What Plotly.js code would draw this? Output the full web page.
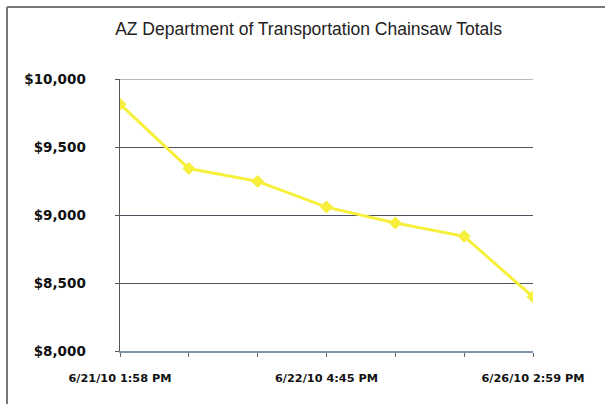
<!DOCTYPE html>
<html>
<head>
<meta charset="utf-8">
<script src="https://cdn.plot.ly/plotly-3.0.1.min.js"></script>
<style>html,body{margin:0;padding:0;background:#fff;}#chart{width:605px;height:404px;}</style>
</head>
<body>
<div id="chart"></div>
<script>
// Data
var xLabels = ['6/21/10 1:58 PM', '', '', '6/22/10 4:45 PM', '', '', '6/26/10 2:59 PM'];
var totals = [9815, 9342, 9247, 9058, 8941, 8843, 8398];
var yTickVals = [8000, 8500, 9000, 9500, 10000];
var yTickText = ['$8,000', '$8,500', '$9,000', '$9,500', '$10,000'];

var xIdx = xLabels.map(function (_, i) { return i; });

var trace = {
  x: xIdx,
  y: totals,
  type: 'scatter',
  mode: 'lines+markers',
  line: {color: '#f6ef3c', width: 3},
  marker: {symbol: 'diamond', size: 10, color: '#f6ef3c'},
  hoverinfo: 'skip'
};

var layout = {
  width: 605, height: 404,
  margin: {l: 120, r: 72, t: 79, b: 53},
  paper_bgcolor: '#ffffff',
  plot_bgcolor: '#ffffff',
  showlegend: false,
  title: {
    text: 'AZ Department of Transportation Chainsaw Totals',
    font: {family: 'Liberation Sans, Arial, sans-serif', size: 17.5, color: '#222222'},
    x: 0.51, xanchor: 'center', y: 0.928, yanchor: 'middle'
  },
  xaxis: {
    range: [0, 6],
    tickmode: 'array',
    tickvals: xIdx,
    ticktext: xLabels,
    ticks: 'outside', ticklen: 4, tickcolor: '#666666', tickwidth: 1,
    showgrid: false, zeroline: false,
    showline: true, linecolor: '#8294ab', linewidth: 1.5,
    ticklabelstandoff: 12,
    tickfont: {family: 'DejaVu Sans, sans-serif', size: 11.3, color: '#111111', weight: 'bold'}
  },
  yaxis: {
    range: [8000, 10000],
    tickmode: 'array',
    tickvals: yTickVals,
    ticktext: yTickText,
    ticks: 'outside', ticklen: 4, tickcolor: '#555555', tickwidth: 1,
    showgrid: true, gridcolor: '#4d525e', gridwidth: 1,
    zeroline: false,
    showline: true, linecolor: '#555555', linewidth: 1.5,
    ticklabelstandoff: 26,
    tickfont: {family: 'DejaVu Sans, sans-serif', size: 13.5, color: '#111111', weight: 'bold'}
  },
  shapes: [
    {type: 'line', xref: 'paper', yref: 'y', x0: 0, x1: 1, y0: 10000, y1: 10000,
     line: {color: '#6a7384', width: 1}, layer: 'below'},
    {type: 'line', xref: 'paper', yref: 'paper', x0: -0.2736, x1: 1.3, y0: 1.2647, y1: 1.2647,
     line: {color: '#777777', width: 2}},
    {type: 'line', xref: 'paper', yref: 'paper', x0: -0.2736, x1: -0.2736, y0: 1.2647, y1: -0.3,
     line: {color: '#777777', width: 2}}
  ]
};

Plotly.newPlot('chart', [trace], layout, {displayModeBar: false, staticPlot: true});
</script>
</body>
</html>
